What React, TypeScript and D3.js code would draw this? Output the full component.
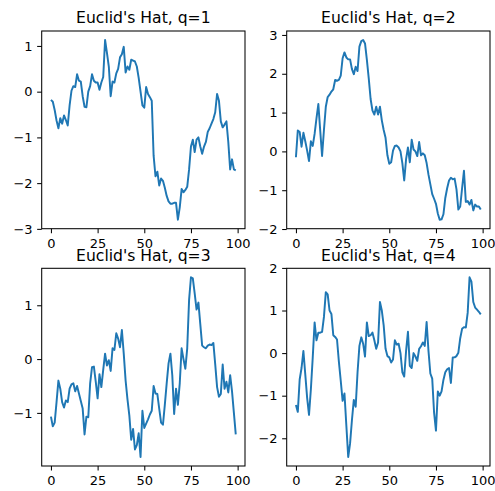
import * as d3 from 'd3';
import React, { useEffect, useRef } from 'react';

// Euclid's Hat samples, index 0..99
const q1Values = [
  -0.18, -0.22, -0.4, -0.63, -0.8, -0.58, -0.7, -0.52, -0.62, -0.74,
  -0.3, 0.02, 0.12, 0.1, 0.38, 0.24, 0.22, -0.1, -0.33, -0.34,
  0.0, 0.12, 0.38, 0.24, 0.2, 0.2, 0.04, 0.2, 0.32, 1.13,
  0.85, 0.55, -0.1, 0.22, 0.2, 0.4, 0.5, 0.75, 0.82, 0.98,
  0.42, 0.55, 0.48, 0.7, 0.68, 0.66, 0.55, 0.3, 0.0, -0.3,
  -0.35, 0.1, -0.05, -0.12, -0.2, -1.4, -1.85, -1.75, -2.05, -1.9,
  -1.95, -2.1, -2.28, -2.4, -2.45, -2.45, -2.43, -2.43, -2.8, -2.53,
  -2.13, -2.2, -2.15, -2.08, -1.7, -1.2, -1.05, -1.32, -1.05, -1.0,
  -1.2, -1.36, -1.2, -1.1, -0.88, -0.8, -0.7, -0.6, -0.45, -0.05,
  -0.2, -0.65, -0.78, -0.72, -0.65, -1.1, -1.7, -1.48, -1.7, -1.72,
];

const q2Values = [
  -0.15, 0.54, 0.5, 0.12, 0.48, 0.26, 0.02, -0.25, 0.26, 0.14,
  0.45, 0.85, 1.22, 0.54, -0.12, 0.55, 1.15, 1.4, 1.46, 1.54,
  1.6, 1.84, 1.82, 1.84, 1.95, 2.4, 2.55, 2.42, 2.37, 2.37,
  2.12, 1.99, 2.18, 2.07, 2.7, 2.84, 2.87, 2.78, 2.36, 1.88,
  1.35, 1.05, 0.95, 1.15, 0.95, 1.15, 0.8, 0.55, 0.35, -0.1,
  -0.32, -0.28, 0.02, 0.14, 0.15, 0.1, 0.0, -0.3, -0.75, -0.2,
  0.1, -0.28, 0.3, 0.05, 0.0, -0.12, 0.24, -0.1, -0.05, -0.1,
  -0.3, -0.6, -0.85, -1.1, -1.22, -1.35, -1.6, -1.76, -1.75, -1.62,
  -1.2, -0.95, -0.75, -0.68, -0.72, -0.7, -0.98, -1.5, -1.42, -0.95,
  -0.5, -1.3, -1.28, -1.37, -1.25, -1.52, -1.37, -1.42, -1.42, -1.5,
];

const q3Values = [
  -1.07, -1.25, -1.18, -0.8, -0.4, -0.55, -0.8, -0.9, -0.77, -0.8,
  -0.55, -0.47, -0.45, -0.6, -0.5, -0.64, -0.78, -0.92, -1.4, -1.07,
  -1.08, -0.45, -0.15, -0.14, -0.42, -0.73, -0.28, -0.52, -0.2, 0.1,
  -0.12, -0.02, -0.22, 0.2, 0.17, 0.48, 0.38, 0.22, 0.54, 0.1,
  -0.4, -0.75, -1.05, -1.5, -1.3, -1.68, -1.6, -1.38, -1.82, -0.96,
  -1.28, -1.2, -1.12, -1.03, -0.96, -0.5, -0.64, -0.65, -0.92, -1.18,
  -1.22, -0.85, -0.45, -0.08, 0.1, -0.3, -1.02, -0.55, -0.85, -0.45,
  0.2, 0.0, -0.18, 0.2, 1.1, 1.52, 1.5, 1.22, 0.92, 1.05,
  0.65, 0.25, 0.22, 0.2, 0.25, 0.27, 0.26, 0.3, -0.1, -0.52,
  -0.7, -0.65, -0.1, -0.55, -0.42, -0.62, -0.3, -0.6, -1.0, -1.4,
];

const q4Values = [
  -1.22, -1.38, -0.62, -0.35, 0.05, -0.5, -1.05, -1.45, -0.85, -0.1,
  0.72, 0.3, 0.48, 0.48, 0.5, 0.85, 1.43, 1.38, 1.0, 0.92,
  0.42, 0.38, 0.32, -0.2, -0.65, -1.12, -0.95, -1.7, -2.44, -2.12,
  -1.57, -1.1, -1.26, -0.45, 0.17, 0.37, 0.22, -0.08, 0.72, 0.4,
  0.42, 0.48, 0.3, 0.1, 0.25, 1.2, 1.0, 0.65, 0.1, -0.07,
  -0.1, -0.22, -0.15, 0.3, 0.2, 0.22, 0.0, -0.45, -0.55, 0.05,
  0.5, -0.3, -0.35, 0.0, -0.08, -0.18, 0.1, 0.16, 0.25, 0.17,
  0.73, 0.05, -0.48, -0.6, -1.4, -1.82, -0.9, -1.0, -0.9, -0.63,
  -0.45, -0.38, -0.35, -0.7, -0.1, -0.1, -0.07, 0.01, 0.35, 0.57,
  0.61, 0.6, 0.95, 1.78, 1.68, 1.2, 1.07, 1.02, 0.97, 0.91,
];

const xTicks = [0, 25, 50, 75, 100];
const q1Ticks = [-3, -2, -1, 0, 1];
const q2Ticks = [-2, -1, 0, 1, 2, 3];
const q3Ticks = [-1, 0, 1];
const q4Ticks = [-2, -1, 0, 1, 2];
const titles = ["Euclid's Hat, q=1", "Euclid's Hat, q=2", "Euclid's Hat, q=3", "Euclid's Hat, q=4"];

const FONT = "'DejaVu Sans', sans-serif";
const LINE_COLOR = '#1f77b4';
const PT = 1.3; // px per point in the reference

interface PanelProps {
  title: string;
  values: number[];
  yTicks: number[];
  left: number;
  top: number;
  width: number;
  height: number;
}

const Panel: React.FC<PanelProps> = ({ title, values, yTicks, left, top, width, height }) => {
  const gRef = useRef<SVGGElement>(null);

  useEffect(() => {
    if (!gRef.current) { return; }
    const g = d3.select(gRef.current);
    g.selectAll('*').remove();

    // matplotlib style 5% margins
    const n = values.length;
    const xPad = (n - 1) * 0.05;
    const xScale = d3.scaleLinear()
      .domain([-xPad, n - 1 + xPad])
      .range([0, width]);

    const [lo, hi] = d3.extent(values) as [number, number];
    const yPad = (hi - lo) * 0.05;
    const yScale = d3.scaleLinear()
      .domain([lo - yPad, hi + yPad])
      .range([height, 0]);

    const line = d3.line<number>()
      .x((_, i) => xScale(i))
      .y(v => yScale(v));

    g.append('path')
      .datum(values)
      .attr('fill', 'none')
      .attr('stroke', LINE_COLOR)
      .attr('stroke-width', 1.5 * PT)
      .attr('stroke-linejoin', 'round')
      .attr('d', line);

    const xAxis = g.append('g')
      .attr('transform', `translate(0,${height})`)
      .call(d3.axisBottom(xScale)
        .tickValues(xTicks)
        .tickSize(3.5 * PT)
        .tickPadding(3.5 * PT)
        .tickFormat(d3.format('d'))
      );

    const yAxis = g.append('g')
      .call(d3.axisLeft(yScale)
        .tickValues(yTicks)
        .tickSize(3.5 * PT)
        .tickPadding(3.5 * PT)
        .tickFormat(d3.format('d'))
      );

    [xAxis, yAxis].forEach(ax => {
      ax.select('.domain').remove();
      ax.selectAll('line').attr('stroke', '#000').attr('stroke-width', 0.8 * PT);
      ax.selectAll('text')
        .attr('fill', '#000')
        .style('font-family', FONT)
        .style('font-size', `${10 * PT}px`);
    });
    xAxis.selectAll('text').attr('dy', '0.76em');

    // frame
    g.append('rect')
      .attr('x', 0)
      .attr('y', 0)
      .attr('width', width)
      .attr('height', height)
      .attr('fill', 'none')
      .attr('stroke', '#000')
      .attr('stroke-width', 0.8 * PT);

    g.append('text')
      .attr('x', width / 2)
      .attr('y', -6 * PT)
      .attr('text-anchor', 'middle')
      .attr('fill', '#000')
      .style('font-family', FONT)
      .style('font-size', `${12 * PT}px`)
      .text(title);
  }, [title, values, yTicks, width, height]);

  return <g ref={gRef} transform={`translate(${left},${top})`} />;
};

const App: React.FC = () => {
  const cols = [41.7, 286.7];
  const rows = [31, 268.3];
  const w = 203.3;
  const h = 197.7;
  const series = [q1Values, q2Values, q3Values, q4Values];
  const ticks = [q1Ticks, q2Ticks, q3Ticks, q4Ticks];

  return (
    <svg
      width={495}
      height={491}
      style={{ position: 'absolute', left: 0, top: 0, background: '#fff' }}
    >
      {series.map((vals, k) => (
        <Panel
          key={k}
          title={titles[k]}
          values={vals}
          yTicks={ticks[k]}
          left={cols[k % 2]}
          top={rows[Math.floor(k / 2)]}
          width={w}
          height={h}
        />
      ))}
    </svg>
  );
};

export default App;
